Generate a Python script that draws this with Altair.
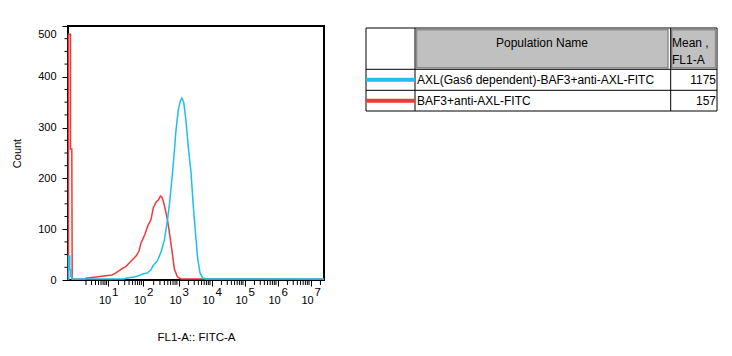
import math
import altair as alt
import pandas as pd

# ---- data ----
# histogram curves: x in display channels (0..256 across the FL1-A axis), y = Count
red_x = [0.5, 0.5, 2.5, 2.5, 3.8, 4.2, 17, 18, 28, 36, 44, 48, 53, 58, 63, 68, 71, 73,
         77, 79.7, 83, 85.3, 88, 90.5, 92.5, 94, 96, 98, 99.5, 101.5, 104.5, 106.3, 109.5, 113, 256]
red_y = [0, 484, 484, 258, 258, 1.5, 1.5, 3.5, 6, 8, 10, 14, 21, 27, 37, 47, 57, 73,
         90, 106, 119, 142, 153, 158, 165, 163, 150, 132, 118, 92, 50, 22, 6, 2, 1.5]

blue_x = [0.5, 0.5, 1.8, 1.8, 2.8, 2.8, 3.8, 4.2, 56, 58, 66, 70, 75, 79.5, 83, 85, 89.5, 93,
          96.3, 99, 101.5, 103.5, 106, 108, 110.3, 112.3, 113.8, 115.7, 118, 120.3, 123, 125.3,
          127.3, 129.7, 132, 134.7, 138, 256]
blue_y = [0, 47, 47, 20, 20, 8, 8, 2, 2, 3.5, 6, 8, 12, 14, 20, 28, 38, 55,
          78, 112, 150, 190, 245, 295, 335, 352, 358, 350, 313, 262, 212, 145,
          98, 42, 14, 4, 2, 2]

# axis: display channel of 10^0 ... 10^8 (biexponential display)
decade_pos = [8.5, 40, 75, 110.5, 143.5, 176.5, 209.5, 242.5, 275.5]
major_exp = [1, 2, 3, 4, 5, 6, 7]
y_major = [0, 100, 200, 300, 400, 500]
y_minor = [v for v in range(0, 501, 25) if v % 100 != 0]

# table content
pop_names = ["AXL(Gas6 dependent)-BAF3+anti-AXL-FITC", "BAF3+anti-AXL-FITC"]
pop_means = ["1175", "157"]
pop_colors = ["#1EBEEE", "#F03A3A"]
header_name = "Population Name"
header_mean = ["Mean ,", "FL1-A"]

FONT = "Liberation Sans"

# ---- axis tick positions ----
majors = [round(decade_pos[e], 2) for e in major_exp]
minors = []
for d in range(0, 8):
    for k in range(2, 10):
        p = decade_pos[d] + math.log10(k) * (decade_pos[d + 1] - decade_pos[d])
        if p <= 256:
            minors.append(round(p, 2))

xscale = alt.Scale(domain=[0, 256], nice=False, zero=False)
yscale = alt.Scale(domain=[0, 500], nice=False)

red_df = pd.DataFrame({"x": red_x, "count": red_y, "i": range(len(red_x))})
blue_df = pd.DataFrame({"x": blue_x, "count": blue_y, "i": range(len(blue_x))})
sup_df = pd.DataFrame({"x": majors, "exp": [str(e) for e in major_exp]})
xminor_df = pd.DataFrame({"x": minors})
yminor_df = pd.DataFrame({"count": y_minor})

x_axis = alt.Axis(
    values=majors, grid=False, domain=False,
    tickSize=6, tickColor="black", tickWidth=1,
    labelExpr="'10'", labelOverlap=False, labelFlush=False,
    labelOffset=-3.5, labelPadding=8, labelFontSize=11, labelFont=FONT, labelColor="black",
    title="FL1-A:: FITC-A", titleFont=FONT, titleFontSize=11.5, titleFontWeight="normal",
    titleColor="black", titlePadding=26,
)
y_axis = alt.Axis(
    values=y_major, grid=False, domain=False,
    tickSize=6, tickColor="black", tickWidth=1,
    labelOverlap=False, labelFlush=False,
    labelOffset={"condition": {"test": "datum.value == 500", "value": 8}, "value": 0},
    labelPadding=6, labelFontSize=11, labelFont=FONT, labelColor="black",
    title="Count", titleFont=FONT, titleFontSize=11, titleFontWeight="normal",
    titleColor="black", titlePadding=15,
)

red_line = alt.Chart(red_df).mark_line(color=pop_colors[1], strokeWidth=1.5).encode(
    x=alt.X("x:Q", scale=xscale, axis=x_axis),
    y=alt.Y("count:Q", scale=yscale, axis=y_axis),
    order="i:Q",
)
blue_line = alt.Chart(blue_df).mark_line(color=pop_colors[0], strokeWidth=1.5).encode(
    x=alt.X("x:Q", scale=xscale),
    y=alt.Y("count:Q", scale=yscale),
    order="i:Q",
)
sups = alt.Chart(sup_df).mark_text(
    align="left", baseline="middle", dx=4, dy=13, fontSize=11.5, font=FONT, color="black"
).encode(
    x=alt.X("x:Q", scale=xscale),
    y=alt.datum(0, scale=yscale),
    text="exp:N",
)
# minor ticks drawn as short rules just outside the frame
xminor = alt.Chart(xminor_df).mark_rule(color="black", strokeWidth=1, yOffset=1, y2Offset=5).encode(
    x=alt.X("x:Q", scale=xscale),
    y=alt.datum(0, scale=yscale),
    y2=alt.datum(0),
)
yminor = alt.Chart(yminor_df).mark_rule(color="black", strokeWidth=1, xOffset=-3.5, x2Offset=-1).encode(
    x=alt.datum(0, scale=xscale),
    x2=alt.datum(0),
    y=alt.Y("count:Q", scale=yscale),
)

hist = alt.layer(red_line, blue_line, sups, xminor, yminor).properties(
    width=256, height=254,
    view=alt.ViewBackground(stroke="black", strokeWidth=2),
)

# ---- table panel (layout units: pixels inside the panel) ----
TW, TH = 353, 254
tx = alt.Scale(domain=[0, TW], nice=False, zero=False)
ty = alt.Scale(domain=[0, TH], nice=False, zero=False, reverse=True)
top, head_b, row1_b, bot = 2, 43.3, 64.3, 85
c1, c2, right = 49, 304.7, 351

box_df = pd.DataFrame({"x": [0], "x2": [right], "y": [top], "y2": [bot]})
box = alt.Chart(box_df).mark_rect(fill="white", stroke="black", strokeWidth=1).encode(
    x=alt.X("x:Q", scale=tx, axis=None), x2="x2:Q",
    y=alt.Y("y:Q", scale=ty, axis=None), y2="y2:Q",
)
gray_df = pd.DataFrame({"x": [50.5, 305.7], "x2": [302, 349.5],
                        "y": [3.8, 3.8], "y2": [41.8, 41.8]})
gray = alt.Chart(gray_df).mark_rect(fill="#C0C0C0", stroke="#8C8C8C", strokeWidth=1.5).encode(
    x=alt.X("x:Q", scale=tx, axis=None), x2="x2:Q",
    y=alt.Y("y:Q", scale=ty, axis=None), y2="y2:Q",
)
lines_df = pd.DataFrame({
    "x": [c1, c2, 0, 0], "x2": [c1, c2, right, right],
    "y": [top, top, head_b, row1_b], "y2": [bot, bot, head_b, row1_b],
})
grid = alt.Chart(lines_df).mark_rule(color="black", strokeWidth=1).encode(
    x=alt.X("x:Q", scale=tx, axis=None), x2="x2:Q",
    y=alt.Y("y:Q", scale=ty, axis=None), y2="y2:Q",
)
row_y = [(head_b + row1_b) / 2, (row1_b + bot) / 2]
rows_df = pd.DataFrame({"name": pop_names, "mean": pop_means, "color": pop_colors,
                        "y": row_y, "x0": [0, 0], "x1": [c1, c1],
                        "xn": [51, 51], "xm": [350, 350]})
swatch = alt.Chart(rows_df).mark_rule(strokeWidth=4).encode(
    x=alt.X("x0:Q", scale=tx, axis=None), x2="x1:Q",
    y=alt.Y("y:Q", scale=ty, axis=None),
    color=alt.Color("color:N", scale=None),
)
names = alt.Chart(rows_df).mark_text(align="left", baseline="middle", fontSize=12,
                                     font=FONT, color="black").encode(
    x=alt.X("xn:Q", scale=tx, axis=None),
    y=alt.Y("y:Q", scale=ty, axis=None),
    text="name:N",
)
means = alt.Chart(rows_df).mark_text(align="right", baseline="middle", fontSize=12,
                                     font=FONT, color="black").encode(
    x=alt.X("xm:Q", scale=tx, axis=None),
    y=alt.Y("y:Q", scale=ty, axis=None),
    text="mean:N",
)
hdr_df = pd.DataFrame({"t": [header_name, header_mean[0], header_mean[1]],
                       "x": [176, 306, 306], "y": [16.7, 16.7, 34.3]})
hdr_c = alt.Chart(hdr_df.iloc[[0]]).mark_text(align="center", baseline="middle", fontSize=12,
                                              font=FONT, color="black").encode(
    x=alt.X("x:Q", scale=tx, axis=None), y=alt.Y("y:Q", scale=ty, axis=None), text="t:N")
hdr_l = alt.Chart(hdr_df.iloc[[1, 2]]).mark_text(align="left", baseline="middle", fontSize=12,
                                                 font=FONT, color="black").encode(
    x=alt.X("x:Q", scale=tx, axis=None), y=alt.Y("y:Q", scale=ty, axis=None), text="t:N")

table = alt.layer(box, gray, grid, swatch, names, means, hdr_c, hdr_l).properties(
    width=TW, height=TH,
    view=alt.ViewBackground(stroke="transparent", strokeWidth=0),
)

chart = alt.hconcat(hist, table, spacing=36).properties(
    padding={"left": 10, "top": 24, "right": 5, "bottom": 5},
).configure_view(stroke="transparent", strokeWidth=0).configure(font=FONT, background="white")

chart.save("out.html", embed_options={"renderer": "svg", "actions": False})
